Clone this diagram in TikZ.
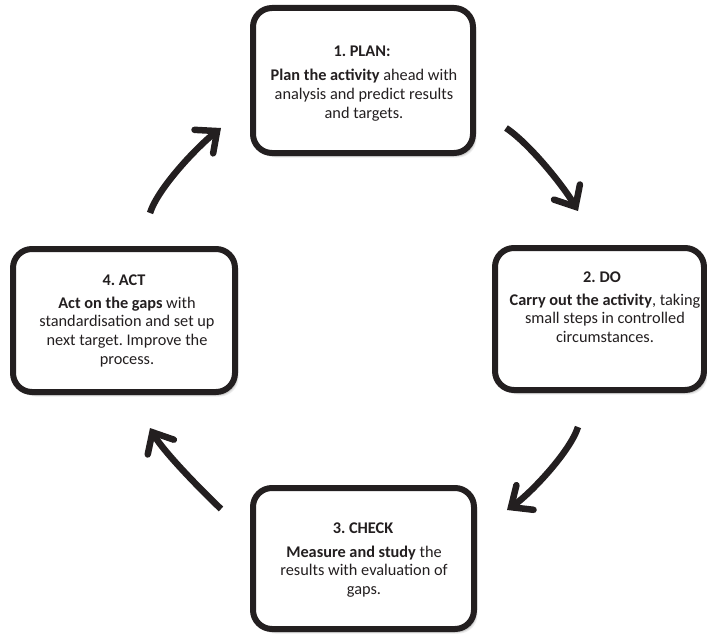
\documentclass[tikz,border=0pt]{standalone}
\usepackage{fontspec}
\setmainfont{Carlito}
\usetikzlibrary{arrows.meta,shadows}
\definecolor{ink}{RGB}{35,31,32}
\frenchspacing
\newcommand\stacklines[1]{\begin{tabular}[t]{@{}c@{}}#1\end{tabular}}
\tikzset{
  stagebox/.style={draw=ink, line width=6pt, rounded corners=19pt, fill=white,
    minimum width=#1, inner sep=0pt,
    drop shadow={shadow xshift=3.5pt, shadow yshift=-4.5pt, fill=black, opacity=0.08},
    drop shadow={shadow xshift=2.5pt, shadow yshift=-3.5pt, fill=black, opacity=0.12},
    drop shadow={shadow xshift=1.5pt, shadow yshift=-2pt, fill=black, opacity=0.18}},
  heading/.style={anchor=base, inner sep=0pt, text=ink, font=\fontsize{16.3}{18.7}\selectfont\bfseries},
  bodytext/.style={anchor=base, inner sep=0pt, text=ink, font=\fontsize{16.3}{18.7}\selectfont},
  cyclearrow/.style={draw=ink, line width=6.5pt,
    -{Straight Barb[length=17pt, width=30pt, line cap=round, line join=miter]}}
}
\begin{document}
\begin{tikzpicture}[x=1pt, y=-1pt]
\renewcommand\arraystretch{1}
\useasboundingbox (0,0) rectangle (707,634);

% the four stages
\node[stagebox=220pt, minimum height=145pt] (plan)  at (363,80.5)   {};
\node[stagebox=209pt, minimum height=142pt] (do)    at (599.5,319)  {};
\node[stagebox=221pt, minimum height=141pt] (check) at (363.5,558.5){};
\node[stagebox=222pt, minimum height=143pt] (act)   at (124,320.5)  {};

% stage texts
\node[heading] (plantitle) at (362,57) {1. PLAN:};
\node[bodytext] (planbody) at (364,81) {\stacklines{\textbf{Plan the activity} ahead with\\ analysis and predict results\\ and targets.}};

\node[heading] (dotitle) at (602,282) {2. DO};
\node[bodytext] (dobody) at (605,305) {\stacklines{\textbf{Carry out the activity}, taking\\ small steps in controlled\\ circumstances.}};

\node[heading] (checktitle) at (363,533) {3. CHECK};
\node[bodytext] (checkbody) at (364,557) {\stacklines{\textbf{Measure and study} the\\ results with evaluation of\\ gaps.}};

\node[heading] (acttitle) at (124,285) {4. ACT};
\node[bodytext] (actbody) at (127,308) {\stacklines{\textbf{Act on the gaps} with\\ standardisation and set up\\ next target. Improve the\\ process.}};

% arrow end points
\coordinate (pd1) at (506,128);  \coordinate (pd2) at (578,211);
\coordinate (dc1) at (578,427);  \coordinate (dc2) at (507,510);
\coordinate (ca1) at (221,509);  \coordinate (ca2) at (150,428);
\coordinate (ap1) at (150,213);  \coordinate (ap2) at (221,128);

% curved arrows of the cycle
\draw[cyclearrow] (pd1) .. controls (530,144) and (564,187) .. (pd2);
\draw[cyclearrow] (dc1) .. controls (570,452) and (530,494) .. (dc2);
\draw[cyclearrow] (ca1) .. controls (200,489) and (163,451) .. (ca2);
\draw[cyclearrow] (ap1) .. controls (158,188) and (197,147) .. (ap2);
\end{tikzpicture}
\end{document}
